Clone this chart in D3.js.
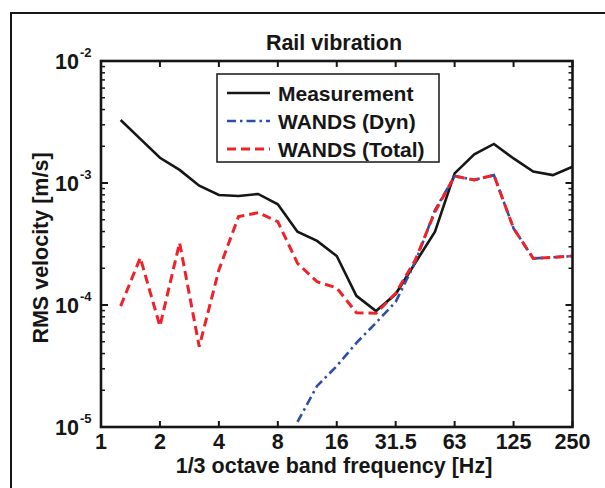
<!DOCTYPE html>
<html><head><meta charset="utf-8">
<script src="https://cdn.jsdelivr.net/npm/d3@7/dist/d3.min.js"></script>
<style>body{margin:0;background:#fff}svg{display:block}text{font-family:"Liberation Sans",Arial,sans-serif;font-weight:bold;fill:#161616}</style>
</head><body><svg id="c" width="605" height="488"></svg>
<script>
const freqs = [1.25,1.6,2,2.5,3.15,4,5,6.3,8,10,12.5,16,20,25,31.5,40,50,63,80,100,125,160,200,250];
const measurement = [3.28e-3,2.30e-3,1.61e-3,1.28e-3,9.5e-4,7.98e-4,7.82e-4,8.13e-4,6.69e-4,3.99e-4,3.35e-4,2.52e-4,1.19e-4,8.93e-5,1.23e-4,2.22e-4,3.99e-4,1.20e-3,1.72e-3,2.09e-3,1.59e-3,1.24e-3,1.16e-3,1.36e-3];
const wandsTotal = [9.8e-5,2.44e-4,6.7e-5,3.24e-4,4.55e-5,1.94e-4,5.3e-4,5.71e-4,4.82e-4,2.2e-4,1.55e-4,1.38e-4,8.65e-5,8.55e-5,1.25e-4,2.34e-4,5.82e-4,1.14e-3,1.06e-3,1.16e-3,4.25e-4,2.41e-4,2.46e-4,2.52e-4];
const wandsDyn = [null,null,null,null,null,null,null,null,null,1.10e-5,2.17e-5,3.16e-5,4.89e-5,7.16e-5,1.06e-4,2.25e-4,6.0e-4,1.14e-3,1.06e-3,1.16e-3,4.25e-4,2.41e-4,2.46e-4,2.52e-4];
const xTickVals = [1,2,4,8,16,32,64,128,256];
const xTickLabels = ["1","2","4","8","16","31.5","63","125","250"];
const yTickVals = [1e-5,1e-4,1e-3,1e-2];
const yTickExps = ["-5","-4","-3","-2"];
const seriesNames = ["Measurement","WANDS (Dyn)","WANDS (Total)"];

const svg = d3.select("#c");
const L=101,R=572.5,T=61,B=427;
const x = d3.scaleLog().base(2).domain([1,256]).range([L,R]);
const y = d3.scaleLog().domain([1e-5,1e-2]).range([B,T]);
const bx = f => x(Math.pow(2, Math.round(3*Math.log2(f))/3));

// outer frame
svg.append("path").attr("d","M11,500 L11,13 L620,13").attr("fill","none").attr("stroke","#161616").attr("stroke-width",2);

// minor y ticks
const minors=[];
for(let e=-5;e<-2;e++) for(let k=2;k<=9;k++) minors.push(k*Math.pow(10,e));
const g = svg.append("g");
minors.forEach(v=>{
  g.append("line").attr("x1",L).attr("x2",L+4).attr("y1",y(v)).attr("y2",y(v)).attr("stroke","#161616").attr("stroke-width",1.5);
  g.append("line").attr("x1",R).attr("x2",R-4).attr("y1",y(v)).attr("y2",y(v)).attr("stroke","#161616").attr("stroke-width",1.5);
});
yTickVals.forEach(v=>{
  g.append("line").attr("x1",L).attr("x2",L+7).attr("y1",y(v)).attr("y2",y(v)).attr("stroke","#161616").attr("stroke-width",2);
  g.append("line").attr("x1",R).attr("x2",R-7).attr("y1",y(v)).attr("y2",y(v)).attr("stroke","#161616").attr("stroke-width",2);
});
xTickVals.forEach(v=>{
  g.append("line").attr("x1",x(v)).attr("x2",x(v)).attr("y1",B).attr("y2",B-6).attr("stroke","#161616").attr("stroke-width",2);
  g.append("line").attr("x1",x(v)).attr("x2",x(v)).attr("y1",T).attr("y2",T+6).attr("stroke","#161616").attr("stroke-width",2);
});

// lines
const line = d3.line().defined(d=>d[1]!=null).x(d=>bx(d[0])).y(d=>y(d[1]));
const pts = arr => freqs.map((f,i)=>[f,arr[i]]);
svg.append("path").attr("d",line(pts(measurement))).attr("fill","none").attr("stroke","#161616").attr("stroke-width",2.6);
svg.append("path").attr("d",line(pts(wandsDyn))).attr("fill","none").attr("stroke","#2e4fa8").attr("stroke-width",2.6).attr("stroke-dasharray","9,4,2.5,4");
svg.append("path").attr("d",line(pts(wandsTotal))).attr("fill","none").attr("stroke","#ee2228").attr("stroke-width",3).attr("stroke-dasharray","9,5");

// axes box
svg.append("rect").attr("x",L).attr("y",T).attr("width",R-L).attr("height",B-T).attr("fill","none").attr("stroke","#161616").attr("stroke-width",2.6);

// tick labels
xTickVals.forEach((v,i)=>{
  svg.append("text").attr("x",x(v)).attr("y",B+22).attr("text-anchor","middle").attr("font-size",21.5).text(xTickLabels[i]);
});
yTickVals.forEach((v,i)=>{
  svg.append("text").attr("x",L-22).attr("y",y(v)+8).attr("text-anchor","end").attr("font-size",21.5).text("10");
  svg.append("text").attr("x",L-21).attr("y",y(v)-4).attr("font-size",13).text(yTickExps[i]);
});

// titles
svg.append("text").attr("x",334).attr("y",50).attr("text-anchor","middle").attr("font-size",21.5).text("Rail vibration");
svg.append("text").attr("x",334).attr("y",473).attr("text-anchor","middle").attr("font-size",21.5).text("1/3 octave band frequency [Hz]");
svg.append("text").attr("transform","translate(48,"+((T+B)/2 + 4)+") rotate(-90)").attr("text-anchor","middle").attr("font-size",21.5).text("RMS velocity [m/s]");

// legend
const lg = svg.append("g");
lg.append("rect").attr("x",217).attr("y",74).attr("width",222).attr("height",88).attr("fill","#fff").attr("stroke","#161616").attr("stroke-width",1.5);
const styles=[{c:"#161616",d:null,w:2.6},{c:"#2e4fa8",d:"9,4,2.5,4",w:2.6},{c:"#ee2228",d:"9,5",w:3}];
seriesNames.forEach((n,i)=>{
  const yy = 93+i*28;
  const l = lg.append("line").attr("x1",227).attr("x2",270).attr("y1",yy).attr("y2",yy).attr("stroke",styles[i].c).attr("stroke-width",styles[i].w);
  if(styles[i].d) l.attr("stroke-dasharray",styles[i].d);
  lg.append("text").attr("x",278).attr("y",yy+8).attr("font-size",21).text(n);
});
</script></body></html>
